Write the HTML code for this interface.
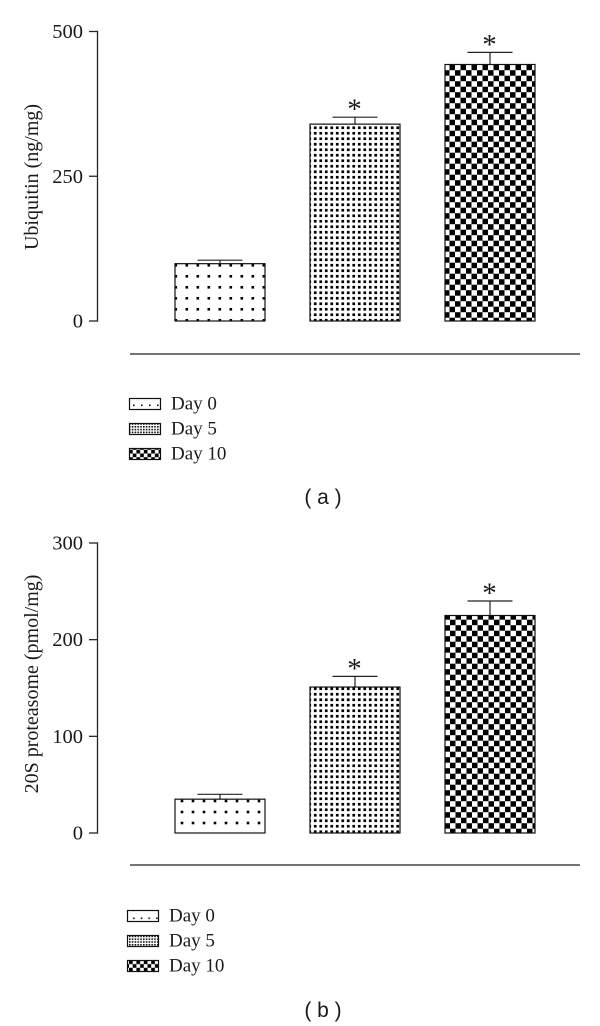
<!DOCTYPE html>
<html>
<head>
<meta charset="utf-8">
<style>
html,body{margin:0;padding:0;background:#fff;width:600px;height:1026px;overflow:hidden}
svg{display:block}
text{font-family:"Liberation Serif",serif;fill:#1a1a1a}
.cap{font-family:"Liberation Sans",sans-serif}
</style>
</head>
<body>
<svg id="fig" xmlns="http://www.w3.org/2000/svg" width="600" height="1026" viewBox="0 0 600 1026">
<defs>
<pattern id="p0" patternUnits="userSpaceOnUse" x="170" y="259.5" width="11" height="11"><rect x="4.5" y="4.5" width="2.6" height="2.6" fill="#000"/></pattern>
<pattern id="p0b" patternUnits="userSpaceOnUse" x="176.5" y="795.5" width="11" height="11"><rect x="4.2" y="4.2" width="2.6" height="2.6" fill="#000"/></pattern>
<pattern id="p1" patternUnits="userSpaceOnUse" x="175" y="125" width="5.5" height="5.5"><rect x="1.4" y="1.4" width="2.7" height="2.7" fill="#000"/></pattern>
<pattern id="p2" patternUnits="userSpaceOnUse" x="449.5" y="64.7" width="11" height="11"><rect x="0" y="0" width="5.5" height="5.5" fill="#000"/><rect x="5.5" y="5.5" width="5.5" height="5.5" fill="#000"/></pattern>
<pattern id="p2b" patternUnits="userSpaceOnUse" x="450" y="619.7" width="11" height="11"><rect x="0" y="0" width="5.5" height="5.5" fill="#000"/><rect x="5.5" y="5.5" width="5.5" height="5.5" fill="#000"/></pattern>
<pattern id="l0" patternUnits="userSpaceOnUse" x="130" y="399" width="8" height="11"><rect x="3" y="5.5" width="1.6" height="1.6" fill="#111"/></pattern>
<pattern id="l0b" patternUnits="userSpaceOnUse" x="130" y="912" width="7.7" height="8"><rect x="3" y="5.5" width="1.6" height="1.6" fill="#111"/></pattern>
<pattern id="l1" patternUnits="userSpaceOnUse" x="129" y="398" width="2.8" height="2.8"><rect x="0" y="0" width="1.6" height="1.6" fill="#111"/></pattern>
<pattern id="l2" patternUnits="userSpaceOnUse" x="129" y="398" width="7.4" height="7.4"><rect x="0" y="0" width="3.7" height="3.7" fill="#000"/><rect x="3.7" y="3.7" width="3.7" height="3.7" fill="#000"/></pattern>
</defs>
</svg>
<script>
const categories = ["Day 0", "Day 5", "Day 10"];
const ubiquitinValues = [99, 340, 443];
const ubiquitinErrorTops = [105, 352, 464];
const ubiquitinTicks = [0, 250, 500];
const proteasomeValues = [35, 151, 225];
const proteasomeErrorTops = [40, 162, 240];
const proteasomeTicks = [0, 100, 200, 300];
const ubiquitinStars = [false, true, true];
const proteasomeStars = [false, true, true];

const NS = "http://www.w3.org/2000/svg";
const svg = document.getElementById("fig");
function mk(tag, attrs, parent, txt) {
  const e = document.createElementNS(NS, tag);
  for (const k in attrs) e.setAttribute(k, attrs[k]);
  if (txt !== undefined) e.textContent = txt;
  (parent || svg).appendChild(e);
  return e;
}
function drawPanel(o) {
  const g = mk("g", {});
  
  
  const maxV = o.ticks[o.ticks.length - 1];
  const y = v => o.y0 - (v / maxV) * (o.y0 - o.yTop);
  const xBar = i => 175 + i * 135;
  const barW = 90;

  const axis = mk("line", {x1: 97.5, x2: 97.5, y1: y(maxV) - 0.7, y2: o.y0 + 0.7, stroke: "#1c2a2a", "stroke-width": 1.3}, g);
  
  

  o.ticks.forEach(t => {
    const tk = mk("line", {x1: 89, x2: 97.5, y1: y(t), y2: y(t), stroke: "#1c2a2a", "stroke-width": 1.3}, g);
    
    
    const lb = mk("text", {x: 83, y: y(t) + 6.5, "text-anchor": "end", "font-size": 20.5}, g, String(t));
    
    
  });

  const title = mk("text", {transform: "translate(" + o.titleX + "," + o.titleY + ") rotate(-90)", "text-anchor": "middle", "font-size": 20}, g, o.title);
  
  

  o.values.forEach((v, i) => {
    const cx = xBar(i) + barW / 2;
    const err = mk("path", {d: "M" + cx + " " + y(v) + "V" + y(o.errs[i]) + "M" + (cx - 22.5) + " " + y(o.errs[i]) + "H" + (cx + 22.5), stroke: "#222", "stroke-width": 1.2, fill: "none"}, g);
    
    
    const bar = mk("rect", {x: xBar(i), y: y(v), width: barW, height: o.y0 - y(v), fill: "url(#" + o.fills[i] + ")", stroke: "#111", "stroke-width": 1.2}, g);
    
    
    if (o.stars[i]) {
      const s = mk("text", {x: cx - 0.5, y: y(o.errs[i]) + 1.5, "text-anchor": "middle", "font-size": 29}, g, "*");
      
      
    }
  });

  const base = mk("line", {x1: 130, x2: 580, y1: o.ruleY, y2: o.ruleY, stroke: "#222", "stroke-width": 1.2}, g);
  
  

  categories.forEach((c, i) => {
    const ly = o.legY + i * 25;
    const sw = mk("rect", {x: o.legX + 0.5, y: ly + 0.5, width: 31, height: 11, fill: "url(#" + o.legFills[i] + ")", stroke: "#111", "stroke-width": 1.2}, g);
    
    
    const t = mk("text", {x: o.legX + 42, y: ly + 11.5, "font-size": 19}, g, c);
    
    
  });

  const cap = mk("text", {x: 323, y: o.capY, "text-anchor": "middle", "font-size": 21, "class": "cap"}, g, o.cap);
  
  
}
drawPanel({name: "panel-a", y0: 321, yTop: 31.5, ruleY: 354, ticks: ubiquitinTicks, values: ubiquitinValues, errs: ubiquitinErrorTops, stars: ubiquitinStars,
  fills: ["p0", "p1", "p2"], legFills: ["l0", "l1", "l2"], title: "Ubiquitin (ng/mg)", titleX: 38, titleY: 177, legX: 129, legY: 398, cap: "( a )", capY: 504});
drawPanel({name: "panel-b", y0: 833, yTop: 543, ruleY: 865, ticks: proteasomeTicks, values: proteasomeValues, errs: proteasomeErrorTops, stars: proteasomeStars,
  fills: ["p0b", "p1", "p2b"], legFills: ["l0b", "l1", "l2"], title: "20S proteasome (pmol/mg)", titleX: 38, titleY: 684, legX: 127, legY: 910, cap: "( b )", capY: 1017});
</script>
</body>
</html>
